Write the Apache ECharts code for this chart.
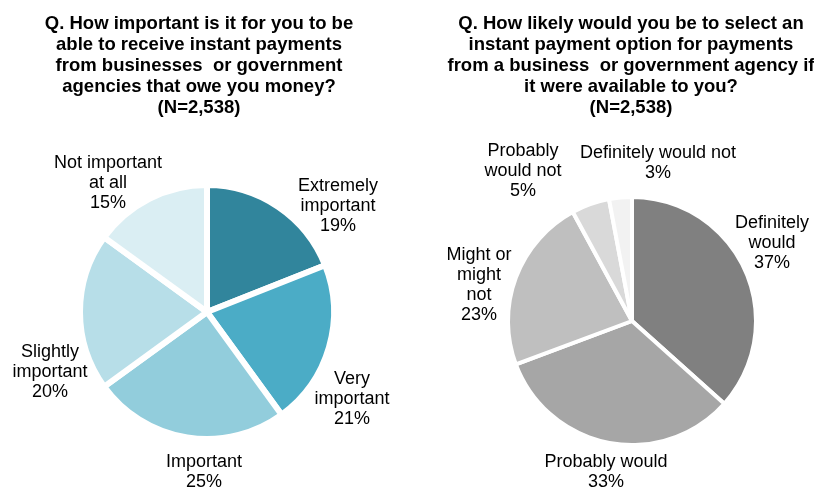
<!DOCTYPE html>
<html>
<head>
<meta charset="utf-8">
<script src="https://cdn.jsdelivr.net/npm/echarts@6/dist/echarts.min.js"></script>
<style>
  html, body { margin: 0; padding: 0; background: #fff; }
  #chart { width: 814px; height: 494px; }
</style>
</head>
<body>
<div id="chart"></div>
<script>
// Survey answers, percent of respondents
const importanceLabels = ['Extremely\nimportant', 'Very\nimportant', 'Important', 'Slightly\nimportant', 'Not important\nat all'];
const importanceValues = [19, 21, 25, 20, 15];
const importanceColors = ['#31859C', '#4BACC6', '#92CDDC', '#B7DEE8', '#DAEEF3'];

const likelihoodLabels = ['Definitely\nwould', 'Probably would', 'Might or\nmight\nnot', 'Probably\nwould not', 'Definitely would not'];
const likelihoodValues = [37, 33, 23, 5, 3];
const likelihoodColors = ['#808080', '#A6A6A6', '#BFBFBF', '#D9D9D9', '#F2F2F2'];

const leftTitle = 'Q. How important is it for you to be\nable to receive instant payments\nfrom businesses  or government\nagencies that owe you money?\n(N=2,538)';
const rightTitle = 'Q. How likely would you be to select an\ninstant payment option for payments\nfrom a business  or government agency if\nit were available to you?\n(N=2,538)';

// Label anchor points (centre of each text block)
const leftLabelPos = [[338, 206], [352, 399], [204, 472], [50, 372], [108, 183]];
const rightLabelPos = [[772, 243], [606, 472], [479, 285], [523, 171], [658, 163]];

const FONT = '"Liberation Sans", Arial, sans-serif';

function buildData(labels, values, colors) {
  return labels.map((n, i) => ({ name: n, value: values[i], itemStyle: { color: colors[i] } }));
}

function pieSeries(data, center, radius, gap, positions) {
  return {
    type: 'pie',
    center: center,
    radius: radius,
    startAngle: 90,
    clockwise: true,
    silent: true,
    animation: false,
    data: data,
    itemStyle: { borderColor: '#fff', borderWidth: gap },
    label: {
      show: true,
      position: 'outside',
      formatter: p => p.name + '\n' + p.value + '%',
      fontFamily: FONT,
      fontSize: 18,
      lineHeight: 20,
      color: '#000',
      width: 220,
      overflow: 'none',
      align: 'center'
    },
    labelLine: { show: false },
    labelLayout: p => ({
      x: positions[p.dataIndex][0],
      y: positions[p.dataIndex][1],
      align: 'center',
      verticalAlign: 'middle'
    })
  };
}

const titleStyle = { fontFamily: FONT, fontSize: 18.5, fontWeight: 'bold', lineHeight: 21, color: '#000' };

const chart = echarts.init(document.getElementById('chart'), null, { renderer: 'canvas' });
chart.setOption({
  backgroundColor: '#fff',
  title: [
    { text: leftTitle, left: 194, top: 8, textAlign: 'center', textStyle: titleStyle },
    { text: rightTitle, left: 626, top: 8, textAlign: 'center', textStyle: titleStyle }
  ],
  series: [
    pieSeries(buildData(importanceLabels, importanceValues, importanceColors), [207, 312], 127, 6, leftLabelPos),
    pieSeries(buildData(likelihoodLabels, likelihoodValues, likelihoodColors), [632, 321], 124, 4, rightLabelPos)
  ]
});
</script>
</body>
</html>
